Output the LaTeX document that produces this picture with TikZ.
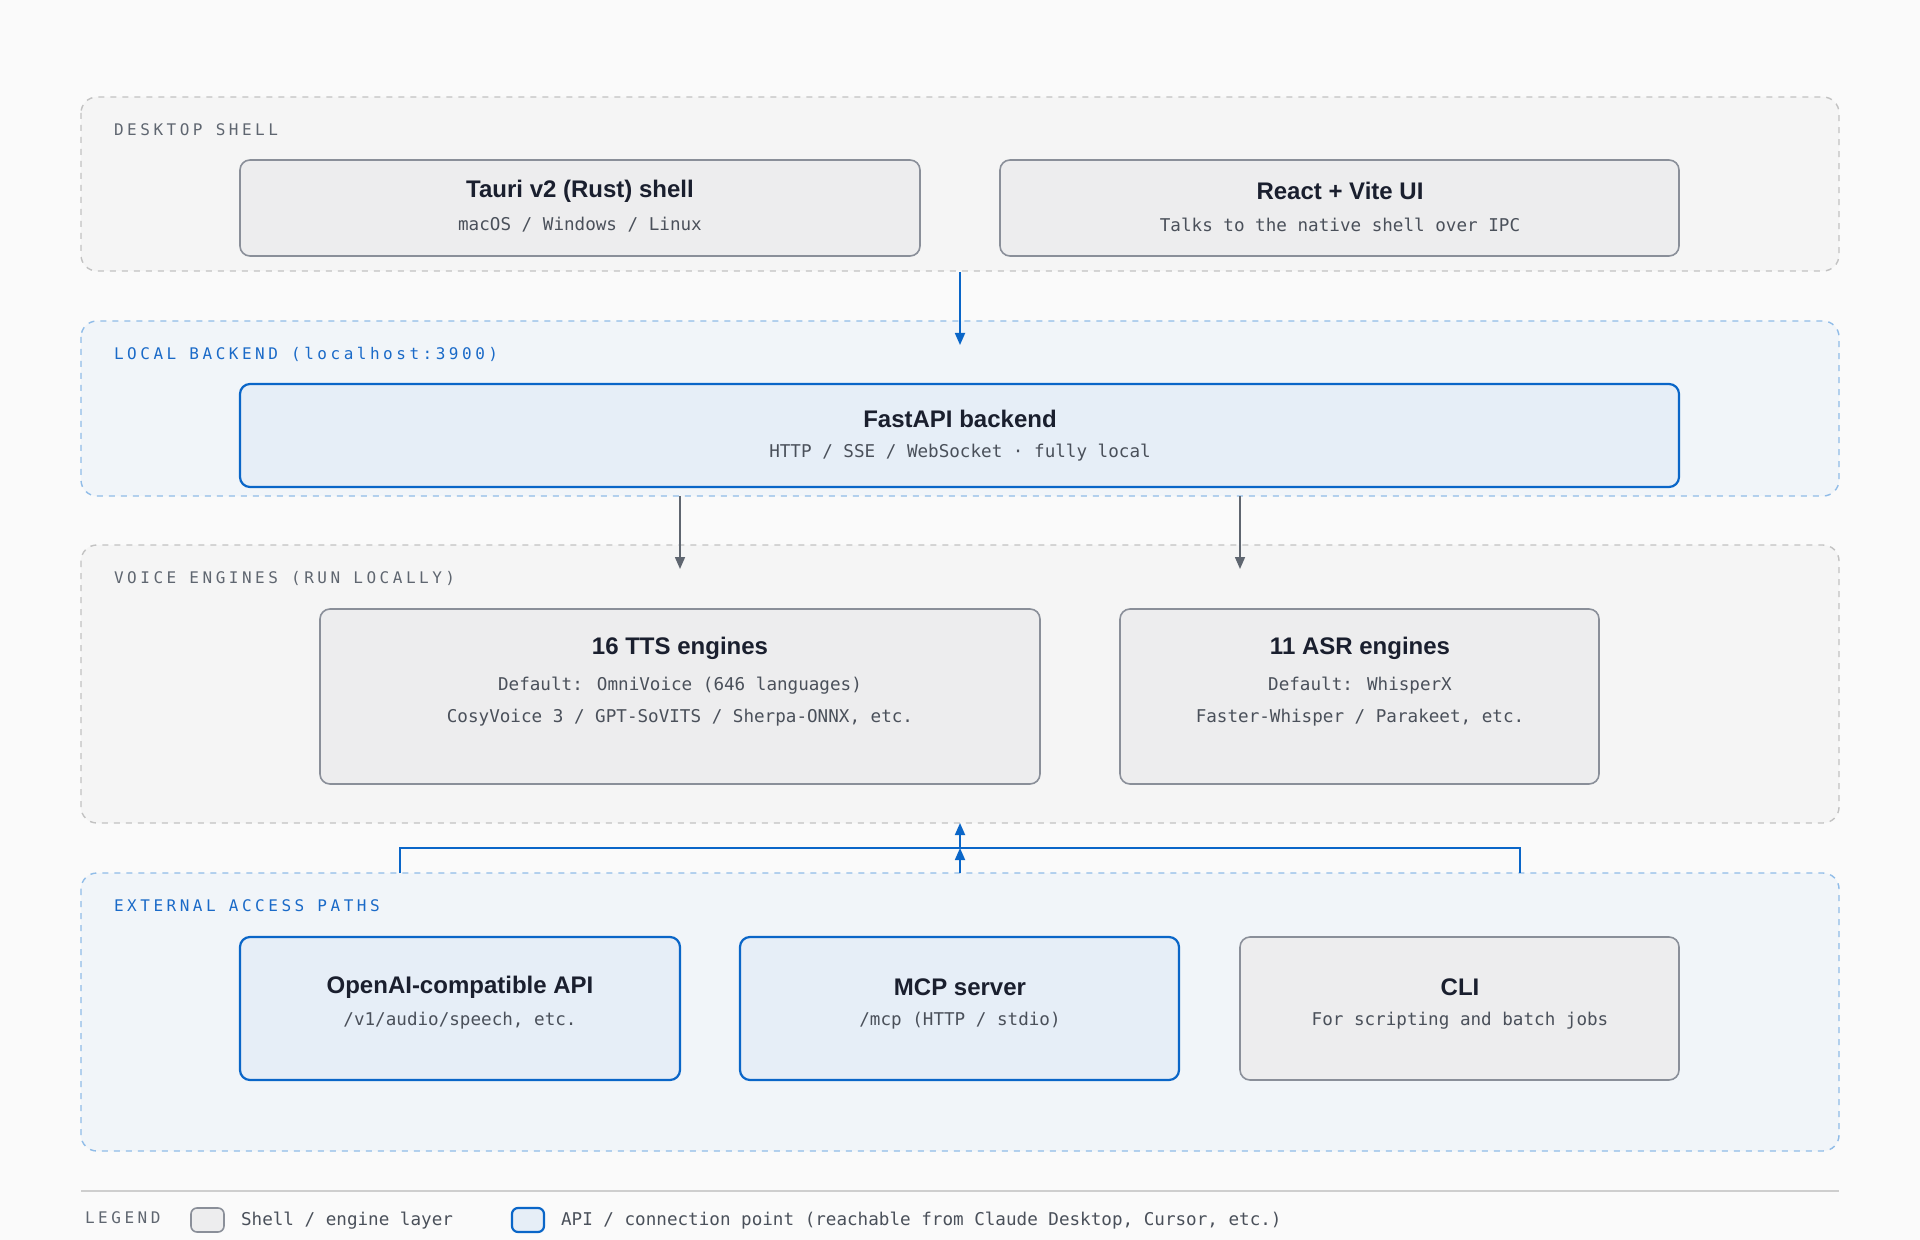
\documentclass[tikz,border=0pt]{standalone}
\usepackage{fontspec}
\setmainfont{Liberation Sans}
\newfontfamily\monof{DejaVu Sans Mono}
\newfontfamily\labf[LetterSpace=22]{DejaVu Sans Mono}
\usetikzlibrary{arrows.meta}
\definecolor{bgc}{HTML}{FAFAFA}
\definecolor{gfill}{HTML}{EDEDEE}
\definecolor{gline}{HTML}{8A8F99}
\definecolor{bfill}{HTML}{E6EEF7}
\definecolor{bline}{HTML}{0A66C8}
\definecolor{gcont}{HTML}{F5F5F5}
\definecolor{gdash}{HTML}{C2C2C2}
\definecolor{bcont}{HTML}{F1F5F9}
\definecolor{bdash}{HTML}{90BCE8}
\definecolor{glab}{HTML}{5F6670}
\definecolor{blab}{HTML}{1A6AC8}
\definecolor{ttl}{HTML}{1A1F2E}
\definecolor{subc}{HTML}{4A505A}
\definecolor{arrg}{HTML}{5F6670}
\begin{document}
\begin{tikzpicture}[x=0.5pt,y=-0.5pt,
 box/.style={draw,rounded corners=5pt,line width=0.8pt,inner sep=0pt},
 gbox/.style={box,fill=gfill,draw=gline},
 bbox/.style={box,fill=bfill,draw=bline,line width=1.1pt},
 gcontainer/.style={draw=gdash,fill=gcont,dashed,dash pattern=on 3pt off 3pt,rounded corners=8pt,line width=0.7pt},
 bcontainer/.style={draw=bdash,fill=bcont,dashed,dash pattern=on 3pt off 3pt,rounded corners=8pt,line width=0.7pt},
 title/.style={font=\bfseries\fontsize{12}{14}\selectfont,text=ttl},
 sub/.style={font=\monof\fontsize{8.8}{10}\selectfont,text=subc},
 glabel/.style={anchor=west,font=\labf\fontsize{8}{10}\selectfont,text=glab},
 blabel/.style={anchor=west,font=\labf\fontsize{8}{10}\selectfont,text=blab},
 garr/.style={draw=arrg,line width=0.8pt,-{Triangle[length=6pt,width=5pt]}},
 barr/.style={draw=bline,line width=0.9pt,-{Triangle[length=6pt,width=5pt]}},
]
\fill[bgc] (0,0) rectangle (1920,1240);
\useasboundingbox (0,0) rectangle (1920,1240);
% containers
\draw[gcontainer] (81,97) rectangle (1839,271);
\node[glabel] (l1) at (107,130) {DESKTOP SHELL};
\draw[bcontainer] (81,321) rectangle (1839,496);
\node[blabel] (l2) at (107,354) {LOCAL BACKEND (localhost:3900)};
\draw[gcontainer] (81,545) rectangle (1839,823);
\node[glabel] (l3) at (107,578) {VOICE ENGINES (RUN LOCALLY)};
\draw[bcontainer] (81,873) rectangle (1839,1151);
\node[blabel] (l4) at (107,906) {EXTERNAL ACCESS PATHS};
% boxes
\draw[gbox] (240,160) rectangle (920,256);
\node[title] (t1) at (580,191) {Tauri v2 (Rust) shell};
\node[sub] (s1) at (580,225) {macOS / Windows / Linux};
\draw[gbox] (1000,160) rectangle (1679,256);
\node[title] (t2) at (1340,191) {React + Vite UI};
\node[sub] (s2) at (1340,225) {Talks to the native shell over IPC};
\draw[bbox] (240,384) rectangle (1679,487);
\node[title] (t3) at (960,419) {FastAPI backend};
\node[sub] (s3) at (960,453) {HTTP / SSE / WebSocket · fully local};
\draw[gbox] (320,609) rectangle (1040,784);
\node[title] (t4) at (680,648) {16 TTS engines};
\node[sub] at (680,686) {Default: OmniVoice (646 languages)};
\node[sub] at (680,718) {CosyVoice 3 / GPT-SoVITS / Sherpa-ONNX, etc.};
\draw[gbox] (1120,609) rectangle (1599,784);
\node[title] (t5) at (1360,648) {11 ASR engines};
\node[sub] at (1360,686) {Default: WhisperX};
\node[sub] at (1360,718) {Faster-Whisper / Parakeet, etc.};
\draw[bbox] (240,937) rectangle (680,1080);
\node[title] (t6) at (460,987) {OpenAI-compatible API};
\node[sub] at (460,1021) {/v1/audio/speech, etc.};
\draw[bbox] (740,937) rectangle (1179,1080);
\node[title] (t7) at (960,987) {MCP server};
\node[sub] at (960,1021) {/mcp (HTTP / stdio)};
\draw[gbox] (1240,937) rectangle (1679,1080);
\node[title] (t8) at (1460,987) {CLI};
\node[sub] at (1460,1021) {For scripting and batch jobs};
% connectors
\coordinate (a1) at (960,272); \coordinate (a2) at (960,345);
\draw[barr] (a1) -- (a2);
\coordinate (b1) at (680,496); \coordinate (b2) at (680,569);
\coordinate (c1) at (1240,496); \coordinate (c2) at (1240,569);
\draw[garr] (b1) -- (b2);
\draw[garr] (c1) -- (c2);
\coordinate (e1) at (400,873); \coordinate (e2) at (1520,873);
\coordinate (m0) at (960,873); \coordinate (m1) at (960,848); \coordinate (m2) at (960,823);
\draw[bline,line width=1.1pt] (e1) |- (m1) -| (e2);
\draw[barr] (m0) -- (m1);
\draw[barr] (m1) -- (m2);
% legend
\draw[draw=gdash!80,line width=0.8pt] (81,1191) -- (1839,1191);
\node[glabel] (lg) at (78,1218) {LEGEND};
\draw[gbox,rounded corners=3pt] (191,1208) rectangle (224,1232);
\node[sub,anchor=west] at (234,1221) {Shell / engine layer};
\draw[bbox,rounded corners=3pt] (512,1208) rectangle (544,1232);
\node[sub,anchor=west] at (554,1221) {API / connection point (reachable from Claude Desktop, Cursor, etc.)};
\end{tikzpicture}
\end{document}
